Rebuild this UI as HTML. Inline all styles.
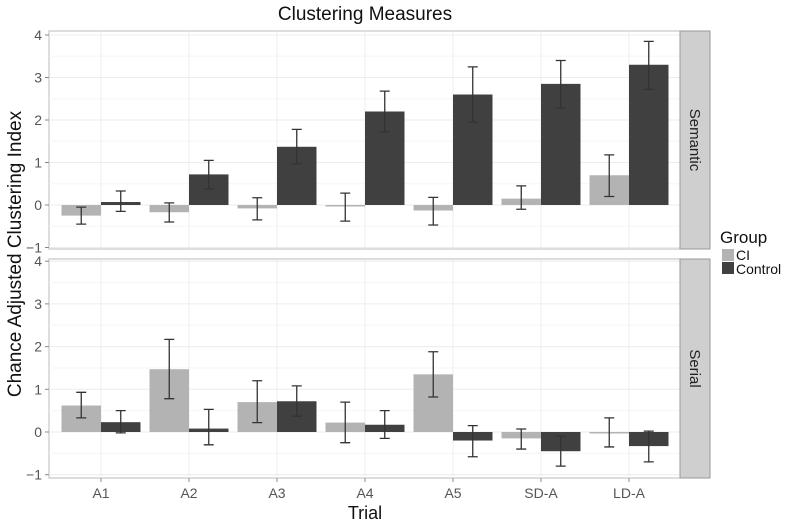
<!DOCTYPE html>
<html><head><meta charset="utf-8"><style>
body{margin:0;background:#fff}
svg{display:block;font-family:"Liberation Sans",sans-serif}
</style></head><body>
<svg id="c" width="787" height="523"></svg>
<script>
const categories=["A1","A2","A3","A4","A5","SD-A","LD-A"];
const panels=["Semantic","Serial"];
const semCI=[-0.25,-0.17,-0.08,-0.02,-0.13,0.15,0.7];
const semCIlo=[-0.45,-0.4,-0.35,-0.38,-0.47,-0.1,0.2];
const semCIhi=[-0.05,0.05,0.17,0.28,0.18,0.45,1.18];
const semCtl=[0.07,0.72,1.37,2.2,2.6,2.85,3.3];
const semCtllo=[-0.15,0.38,0.97,1.72,1.95,2.28,2.72];
const semCtlhi=[0.33,1.05,1.78,2.68,3.25,3.4,3.85];
const serCI=[0.62,1.47,0.7,0.22,1.35,-0.15,0];
const serCIlo=[0.33,0.78,0.22,-0.25,0.82,-0.4,-0.35];
const serCIhi=[0.93,2.17,1.2,0.7,1.88,0.07,0.33];
const serCtl=[0.23,0.08,0.72,0.17,-0.2,-0.45,-0.33];
const serCtllo=[-0.02,-0.3,0.37,-0.15,-0.58,-0.8,-0.7];
const serCtlhi=[0.5,0.53,1.08,0.5,0.15,-0.1,0.02];
const yTicks=[-1,0,1,2,3,4];

const svg=document.getElementById('c');
const NS="http://www.w3.org/2000/svg";
function mk(t,a,p){const e=document.createElementNS(NS,t);for(const k in a)e.setAttribute(k,a[k]);(p||svg).appendChild(e);return e;}
const X0=49,X1=680,step=88,bw=39.5;
const xC=i=>101+i*step;
const panelDefs=[
 {top:31,bot:249,y0:205,unit:42.5,ci:semCI,cil:semCIlo,cih:semCIhi,ct:semCtl,ctl:semCtllo,cth:semCtlhi},
 {top:259,bot:478,y0:432,unit:42.7,ci:serCI,cil:serCIlo,cih:serCIhi,ct:serCtl,ctl:serCtllo,cth:serCtlhi}
];
let t=mk('text',{x:365,y:20,'text-anchor':'middle','font-size':19,fill:'#111'});
t.textContent='Clustering Measures';

panelDefs.forEach((p,pi)=>{
 const y=v=>p.y0-v*p.unit;
 const g=mk('g',{});
 
 
 mk('rect',{x:X0,y:p.top,width:X1-X0,height:p.bot-p.top,fill:'#fff',stroke:'#bbb'},g);
 yTicks.forEach(v=>{mk('line',{x1:X0,x2:X1,y1:y(v),y2:y(v),stroke:'#ececec'},g);
  if(v<4)mk('line',{x1:X0,x2:X1,y1:y(v+0.5),y2:y(v+0.5),stroke:'#f6f6f6'},g);
  mk('line',{x1:X0-4,x2:X0,y1:y(v),y2:y(v),stroke:'#888'},g);
  const tl=mk('text',{x:X0-7,y:y(v)+5,'text-anchor':'end','font-size':14,fill:'#555'},g);
  
  tl.textContent=v<0?'\u2212'+(-v):v;});
 categories.forEach((c,i)=>mk('line',{x1:xC(i),x2:xC(i),y1:p.top,y2:p.bot,stroke:'#ececec'},g));
 const series=[[p.ci,p.cil,p.cih,'#b3b3b3','ci'],[p.ct,p.ctl,p.cth,'#404040','control']];
 series.forEach((s,si)=>{
  s[0].forEach((v,i)=>{
   const x=xC(i)-bw+si*bw;
   const b=mk('rect',{x:x,y:Math.min(y(v),y(0)),width:bw,height:Math.max(Math.abs(y(v)-y(0)),1.5),fill:s[3]},g);
   
   
   const cx=x+bw/2,ylo=y(s[1][i]),yhi=y(s[2][i]);
   const e=mk('path',{d:`M${cx},${ylo}V${yhi}M${cx-5},${ylo}H${cx+5}M${cx-5},${yhi}H${cx+5}`,stroke:'#333','stroke-width':1.3,fill:'none'},g);
   
  });
 });
 mk('rect',{x:X1,y:p.top,width:30,height:p.bot-p.top,fill:'#cfcfcf',stroke:'#999'},g);
 const st=mk('text',{x:0,y:0,'text-anchor':'middle','font-size':15,fill:'#222',transform:`translate(${X1+10},${(p.top+p.bot)/2}) rotate(90)`},g);
 
 st.textContent=panels[pi];
});
categories.forEach((c,i)=>{
 mk('line',{x1:xC(i),x2:xC(i),y1:478,y2:482,stroke:'#888'});
 const tl=mk('text',{x:xC(i),y:498,'text-anchor':'middle','font-size':14,fill:'#555'});
 tl.textContent=c;
});
t=mk('text',{x:365,y:519,'text-anchor':'middle','font-size':18,fill:'#111'});
t.textContent='Trial';
t=mk('text',{x:0,y:0,'text-anchor':'middle','font-size':19,fill:'#111',transform:'translate(21,254) rotate(-90)'});
t.textContent='Chance Adjusted Clustering Index';
const lg=mk('g',{});

t=mk('text',{x:720,y:243,'font-size':17,fill:'#111'},lg);t.textContent='Group';
mk('rect',{x:722,y:249,width:12,height:12,fill:'#b3b3b3'},lg);
mk('rect',{x:722,y:262,width:12,height:12,fill:'#404040'},lg);
t=mk('text',{x:736,y:260,'font-size':14,fill:'#111'},lg);t.textContent='CI';

t=mk('text',{x:736,y:274,'font-size':14,fill:'#111'},lg);t.textContent='Control';

</script>
</body></html>
